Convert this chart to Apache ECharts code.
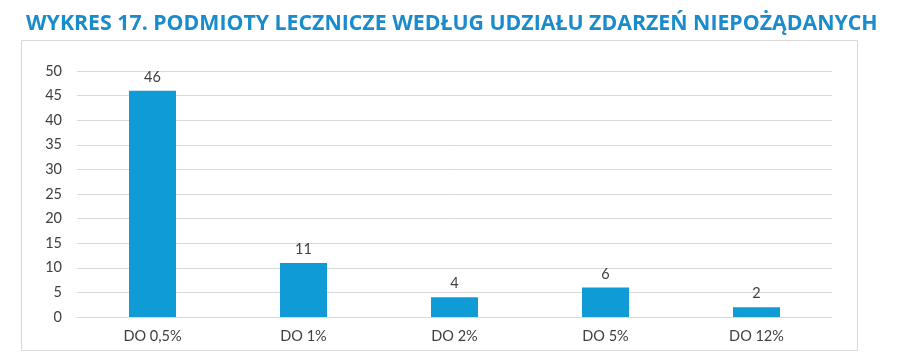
<!DOCTYPE html>
<html><head><meta charset="utf-8">
<script src="https://cdn.jsdelivr.net/npm/echarts@6/dist/echarts.min.js"></script>
<style>html,body{margin:0;padding:0;background:#fff}#c{width:900px;height:363px}</style>
</head><body><div id="c"></div>
<script>
var titleText = 'WYKRES 17. PODMIOTY LECZNICZE WEDŁUG UDZIAŁU ZDARZEŃ NIEPOŻĄDANYCH';
var categories = ['DO 0,5%', 'DO 1%', 'DO 2%', 'DO 5%', 'DO 12%'];
var values = [46, 11, 4, 6, 2];
var chart = echarts.init(document.getElementById('c'), null, {renderer: 'canvas'});
chart.setOption({
  animation: false,
  backgroundColor: '#fff',
  title: {
    text: titleText, left: 21, top: 8,
    textStyle: {fontFamily: 'Open Sans', fontWeight: 'bold', fontSize: 21.3, color: '#1a8bcb'}
  },
  graphic: [{type: 'rect', shape: {x: 21.5, y: 40.5, width: 836, height: 310}, style: {fill: 'none', stroke: '#d9d9d9', lineWidth: 1}, z: -1}],
  grid: {left: 77, right: 68, top: 71, bottom: 46},
  xAxis: {
    type: 'category', data: categories,
    axisLine: {show: true, lineStyle: {color: '#d9d9d9'}}, axisTick: {show: false},
    axisLabel: {color: '#404040', fontFamily: 'Lato', fontSize: 14.5, margin: 12}
  },
  yAxis: {
    type: 'value', min: 0, max: 50, interval: 5,
    axisLine: {show: false}, axisTick: {show: false},
    splitLine: {lineStyle: {color: '#d9d9d9'}},
    axisLabel: {color: '#404040', fontFamily: 'Lato', fontSize: 14.5, margin: 15}
  },
  series: [{
    type: 'bar', data: values, barWidth: 47,
    itemStyle: {color: '#0f9cd6'},
    label: {show: true, position: 'top', color: '#404040', fontFamily: 'Lato', fontSize: 14.5, distance: 6}
  }]
});
</script></body></html>
